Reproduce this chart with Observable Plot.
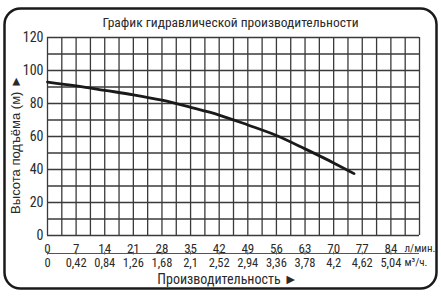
<!DOCTYPE html>
<html>
<head>
<meta charset="utf-8">
<script src="https://cdn.jsdelivr.net/npm/d3@7"></script>
<script src="https://cdn.jsdelivr.net/npm/@observablehq/plot@0.6"></script>
<style>
  body { margin: 0; background: #fff; }
</style>
</head>
<body>
<div id="chart"></div>
<script>
const title = "График гидравлической производительности";
const yLabel = "Высота подъёма (м) ►";
const xLabel = "Производительность ►";
const unitTop = "л/мин.";
const unitBottom = "м³/ч.";

// flow in l/min and head in m
const flow = [0, 7, 14, 21, 28, 35, 42, 49, 56, 63, 70, 75];
const head = [93, 90.7, 88, 85.3, 82, 77.7, 73, 67, 60.6, 52.5, 44, 37.5];

const xTicks = [0, 7, 14, 21, 28, 35, 42, 49, 56, 63, 70, 77, 84];
const m3Labels = ["0", "0,42", "0,84", "1,26", "1,68", "2,1", "2,52", "2,94", "3,36", "3,78", "4,2", "4,62", "5,04"];
const yTicks = [0, 20, 40, 60, 80, 100, 120];
const xGrid = d3.range(0, 91.01, 3.5);
const yGrid = d3.range(0, 120.01, 10);

const curve = flow.map((f, i) => ({flow: f, head: head[i]}));

const narrow = "'Liberation Sans Narrow', 'Roboto Condensed', 'Liberation Sans', sans-serif";
const regular = "'Liberation Sans', Arial, sans-serif";
const ink = "#2a2a2a";

const chart = Plot.plot({
  width: 441,
  height: 297,
  marginLeft: 47,
  marginRight: 22,
  marginTop: 37,
  marginBottom: 62,
  style: {fontFamily: narrow, background: "#fff", color: ink},
  x: {domain: [0, 91], axis: null},
  y: {domain: [0, 120], axis: null},
  marks: [
    Plot.frame({rx: 16, insetLeft: -43, insetTop: -29, insetRight: -17, insetBottom: -53, stroke: "#1a1a1a", strokeWidth: 2.5, fill: "none"}),
    Plot.ruleX(xGrid, {stroke: "#3a3a3a", strokeWidth: 1.3}),
    Plot.ruleY(yGrid, {stroke: "#3a3a3a", strokeWidth: 1.3}),
    Plot.line(curve, {x: "flow", y: "head", curve: "monotone-x", stroke: "#1a1a1a", strokeWidth: 2.8}),
    Plot.axisY(yTicks, {anchor: "left", label: null, tickSize: 0, tickPadding: 4, fontSize: 14, fill: ink}),
    Plot.text(xTicks, {x: d => d, y: 0, dy: 13, fontSize: 13, fill: ink}),
    Plot.ruleY([0], {x1: 0, x2: 91, dy: 18, stroke: "#555", strokeWidth: 1.2}),
    Plot.axisX(xTicks, {anchor: "bottom", label: null, tickSize: 3, tickFormat: () => "", dy: 16.5, stroke: "#555"}),
    Plot.text(xTicks, {x: d => d, y: 0, text: (d, i) => m3Labels[i], dy: 27, fontSize: 12.5, fill: ink}),
    Plot.text([unitTop], {frameAnchor: "bottom-right", textAnchor: "start", lineAnchor: "middle", dx: -15, dy: 13, fontSize: 11, fill: ink}),
    Plot.text([unitBottom], {frameAnchor: "bottom-right", textAnchor: "start", lineAnchor: "middle", dx: -15, dy: 27, fontSize: 11, fill: ink}),
    Plot.text([title], {frameAnchor: "top", textAnchor: "middle", lineAnchor: "middle", dx: -3, dy: -15, fontSize: 13.5, fontFamily: narrow, fill: ink}),
    Plot.text([xLabel], {frameAnchor: "bottom", textAnchor: "middle", lineAnchor: "middle", dx: -6, dy: 44, fontSize: 14, fill: ink}),
    Plot.text([yLabel], {frameAnchor: "left", textAnchor: "middle", lineAnchor: "middle", rotate: -90, dx: -32, dy: 8, fontSize: 13, fontFamily: regular, fill: ink})
  ]
});
document.getElementById("chart").append(chart);
</script>
</body>
</html>
